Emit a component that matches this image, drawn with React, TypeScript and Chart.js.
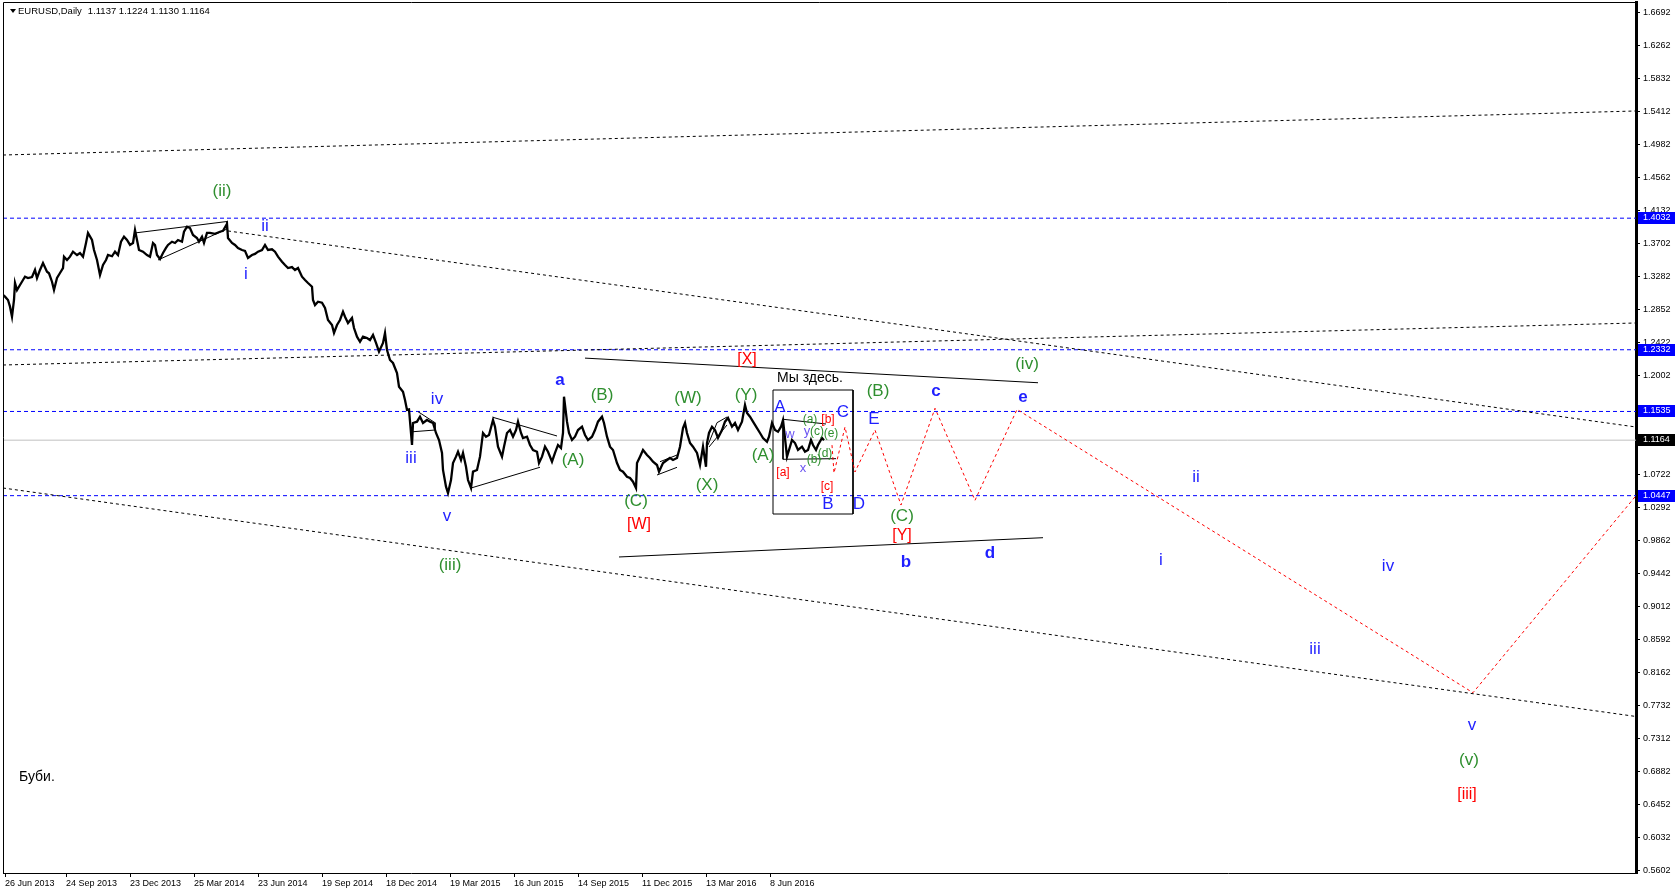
import React, { useEffect, useRef } from 'react';
import { Chart, registerables } from 'chart.js';

Chart.register(...registerables);

const FONT = '"Liberation Sans", Arial, sans-serif';

// EURUSD daily closes: bar number (from first visible session) and price
const priceBar = [
  0, 2, 5, 7, 9, 11, 12, 14, 17, 20, 22, 25, 29, 32, 34, 37, 40, 44, 46, 49, 51, 54, 57, 60, 61, 64, 67, 70, 74, 77,
  80, 83, 85, 89, 91, 94, 97, 100, 103, 105, 109, 112, 115, 118, 121, 124, 127, 130, 132, 134, 136, 140, 144, 147, 150,
  152, 154, 157, 160, 163, 165, 169, 172, 175, 179, 181, 184, 187, 190, 194, 196, 199, 201, 204, 207, 212, 217, 220,
  224, 225, 229, 232, 235, 239, 242, 245, 249, 252, 255, 259, 262, 265, 269, 272, 275, 279, 282, 285, 289, 292, 295,
  299, 302, 305, 309, 310, 312, 315, 319, 322, 325, 329, 331, 334, 337, 340, 342, 345, 349, 351, 354, 357, 360, 364,
  367, 370, 373, 376, 380, 382, 384, 387, 390, 394, 396, 400, 402, 404, 406, 409, 410, 414, 417, 420, 424, 427, 430,
  433, 436, 439, 440, 443, 445, 448, 450, 453, 455, 458, 460, 463, 465, 468, 470, 474, 477, 480, 483, 486, 490, 492,
  495, 499, 501, 504, 507, 510, 513, 515, 518, 520, 524, 527, 530, 534, 536, 539, 542, 545, 549, 552, 555, 558, 560,
  561, 564, 566, 569, 572, 575, 579, 582, 585, 589, 592, 595, 599, 601, 604, 607, 610, 614, 617, 620, 624, 627, 630,
  633, 634, 637, 640, 644, 647, 650, 654, 656, 660, 664, 667, 670, 674, 677, 680, 682, 684, 687, 690, 694, 697, 700,
  703, 704, 706, 709, 712, 715, 719, 722, 725, 729, 732, 735, 739, 742, 744, 747, 750, 754, 757, 760, 764, 766, 769,
  772, 775, 778, 780, 782, 784, 786, 789, 792, 795, 799, 802, 805, 808, 810, 813, 815, 819, 821,
];
const priceClose = [
  1.3040, 1.3018, 1.2975, 1.2889, 1.2759, 1.2975, 1.3195, 1.3104, 1.3169, 1.3233, 1.3276, 1.3259, 1.3272, 1.3363,
  1.3259, 1.3363, 1.3453, 1.3341, 1.3320, 1.3211, 1.3104, 1.3259, 1.3324, 1.3388, 1.3535, 1.3492, 1.3535, 1.3599,
  1.3556, 1.3582, 1.3535, 1.3712, 1.3841, 1.3750, 1.3621, 1.3492, 1.3298, 1.3427, 1.3492, 1.3556, 1.3540, 1.3599,
  1.3556, 1.3728, 1.3793, 1.3750, 1.3686, 1.3712, 1.3879, 1.3750, 1.3621, 1.3599, 1.3556, 1.3535, 1.3712, 1.3686,
  1.3556, 1.3505, 1.3582, 1.3647, 1.3686, 1.3728, 1.3712, 1.3750, 1.3728, 1.3857, 1.3922, 1.3905, 1.3815, 1.3776,
  1.3728, 1.3793, 1.3712, 1.3841, 1.3841, 1.3830, 1.3857, 1.3870, 1.3960, 1.3776, 1.3712, 1.3686, 1.3647, 1.3621,
  1.3610, 1.3518, 1.3556, 1.3570, 1.3599, 1.3621, 1.3686, 1.3621, 1.3630, 1.3599, 1.3535, 1.3470, 1.3427, 1.3388,
  1.3400, 1.3363, 1.3388, 1.3276, 1.3233, 1.3195, 1.3147, 1.2975, 1.2910, 1.2953, 1.2940, 1.2872, 1.2717, 1.2652,
  1.2549, 1.2652, 1.2717, 1.2824, 1.2759, 1.2678, 1.2743, 1.2613, 1.2501, 1.2436, 1.2501, 1.2484, 1.2458, 1.2523,
  1.2420, 1.2307, 1.2420, 1.2549, 1.2329, 1.2200, 1.2161, 1.2032, 1.1855, 1.1790, 1.1683, 1.1554, 1.1560, 1.1102,
  1.1386, 1.1403, 1.1467, 1.1386, 1.1425, 1.1403, 1.1386, 1.1257, 1.1166, 1.0999, 1.0779, 1.0563, 1.0481, 1.0649,
  1.0869, 1.0951, 1.1015, 1.0908, 1.0999, 1.0821, 1.0649, 1.0546, 1.0757, 1.0779, 1.0951, 1.1257, 1.1209, 1.1230,
  1.1425, 1.1338, 1.1080, 1.0951, 1.1080, 1.1257, 1.1295, 1.1209, 1.1295, 1.1403, 1.1257, 1.1192, 1.1209, 1.1102,
  1.1037, 1.1015, 1.0869, 1.0951, 1.1080, 1.1015, 1.0886, 1.0999, 1.1102, 1.1063, 1.1257, 1.1726, 1.1403, 1.1257,
  1.1166, 1.1209, 1.1295, 1.1338, 1.1231, 1.1166, 1.1209, 1.1295, 1.1403, 1.1467, 1.1386, 1.1209, 1.1080, 1.1037,
  1.0869, 1.0779, 1.0757, 1.0692, 1.0675, 1.0627, 1.0546, 1.0869, 1.0951, 1.1037, 1.0972, 1.0934, 1.0886, 1.0843,
  1.0757, 1.0869, 1.0908, 1.0934, 1.0908, 1.0934, 1.1080, 1.1321, 1.1386, 1.1257, 1.1127, 1.1080, 1.0999, 1.0843,
  1.1080, 1.0821, 1.1127, 1.1257, 1.1338, 1.1295, 1.1192, 1.1295, 1.1403, 1.1451, 1.1338, 1.1386, 1.1295, 1.1403,
  1.1618, 1.1515, 1.1467, 1.1403, 1.1321, 1.1257, 1.1192, 1.1144, 1.1209, 1.1386, 1.1295, 1.1273, 1.1338, 1.1425,
  1.1192, 1.0951, 1.1037, 1.1166, 1.1127, 1.1037, 1.1080, 1.1015, 1.1037, 1.1166, 1.1102, 1.1037, 1.1102, 1.1192,
  1.1164,
];

// time axis labels
const dateTickBar = [2, 63, 127, 191, 255, 319, 383, 447, 511, 575, 639, 703, 767];
const dateTickLabel = [
  '26 Jun 2013', '24 Sep 2013', '23 Dec 2013', '25 Mar 2014', '23 Jun 2014', '19 Sep 2014', '18 Dec 2014',
  '19 Mar 2015', '16 Jun 2015', '14 Sep 2015', '11 Dec 2015', '13 Mar 2016', '8 Jun 2016',
];

// price axis labels
const priceTicks = [
  1.6692, 1.6262, 1.5832, 1.5412, 1.4982, 1.4562, 1.4132, 1.3702, 1.3282, 1.2852, 1.2422, 1.2002, 1.0722, 1.0292,
  0.9862, 0.9442, 0.9012, 0.8592, 0.8162, 0.7732, 0.7312, 0.6882, 0.6452, 0.6032, 0.5602,
];

const symbolTitle = 'EURUSD,Daily';
const lastBarOHLC = [1.1137, 1.1224, 1.1130, 1.1164];
const lastPrice = 1.1164;
const levelPrices = [1.4032, 1.2332, 1.1535, 1.0447];

// trend lines: [bar, price, bar, price]
const channelLines = [
  [0, 1.4848, 1633, 1.5417],
  [0, 1.2135, 1633, 1.2678],
  [225, 1.3867, 1633, 1.1334],
  [0, 1.0546, 1633, 0.7594],
];
const patternLines = [
  [132, 1.3841, 224, 1.3989],
  [155, 1.3492, 224, 1.3892],
  [224, 1.3989, 224, 1.3892],
  [415, 1.1532, 432, 1.1390],
  [410, 1.1273, 432, 1.1295],
  [432, 1.1390, 432, 1.1295],
  [490, 1.1459, 554, 1.1218],
  [467, 1.0542, 537, 1.0814],
  [654, 1.0714, 674, 1.0813],
  [657, 1.0886, 674, 1.0972],
  [705, 1.1102, 714, 1.1390],
  [714, 1.1390, 724, 1.1463],
  [706, 1.1076, 724, 1.1360],
  [780, 1.1434, 823, 1.1373],
  [780, 1.0917, 833, 1.0925],
  [780, 1.1434, 780, 1.0917],
  [582, 1.2224, 1035, 1.1906],
  [616, 0.9655, 1040, 0.9904],
];
const focusBoxBars = [770, 850];
const focusBoxPrices = [1.1812, 1.0210];

// projected path
const forecastBar = [829, 831, 842, 852, 872, 898, 932, 972, 1014, 1470, 1633];
const forecastPrice = [1.1100, 1.0740, 1.1334, 1.0753, 1.1295, 1.0326, 1.1576, 1.0387, 1.1561, 0.7901, 1.0447];

// wave labels: [text, bar, price]
const greenWaves: [string, number, number][] = [
  ['(ii)', 219, 1.4379], ['(iii)', 447, 0.9545], ['(A)', 570, 1.0899], ['(B)', 599, 1.1741], ['(C)', 633, 1.0374],
  ['(W)', 685, 1.1700], ['(X)', 704, 1.0581], ['(Y)', 743, 1.1741], ['(A)', 760, 1.0967], ['(B)', 875, 1.1797],
  ['(C)', 899, 1.0180], ['(iv)', 1024, 1.2142], ['(v)', 1466, 0.7032],
];
const greenMinor: [string, number, number][] = [
  ['(a)', 807, 1.1425], ['(b)', 811, 1.0917], ['(c)', 814, 1.1273], ['(d)', 822, 1.0994], ['(e)', 828, 1.1250],
];
const redWaves: [string, number, number][] = [
  ['[X]', 744, 1.2210], ['[W]', 636, 1.0071], ['[Y]', 899, 0.9932], ['[iii]', 1464, 0.6590],
];
const redMinor: [string, number, number][] = [['[a]', 780, 1.0740], ['[b]', 825, 1.1425], ['[c]', 824, 1.0569]];
const blueWaves: [string, number, number][] = [
  ['ii', 262, 1.3923], ['i', 243, 1.3302], ['iv', 434, 1.1686], ['iii', 408, 1.0926], ['v', 444, 1.0180],
  ['A', 777, 1.1589], ['C', 840, 1.1520], ['B', 825, 1.0333], ['D', 856, 1.0333], ['E', 871, 1.1438],
  ['ii', 1193, 1.0678], ['i', 1158, 0.9616], ['iv', 1385, 0.9532], ['iii', 1312, 0.8468], ['v', 1469, 0.7474],
];
const blueBoldWaves: [string, number, number][] = [
  ['a', 557, 1.1935], ['c', 933, 1.1797], ['b', 903, 0.9586], ['d', 987, 0.9697], ['e', 1020, 1.1714],
];
const violetMinor: [string, number, number][] = [['w', 787, 1.1244], ['x', 800, 1.0801], ['y', 804, 1.1273]];
const notes: [string, number, number][] = [['Мы здесь.', 807, 1.1963]];
const sideNote: [string, number, number] = ['Буби.', 16, 0.6812];

const GREEN = '#2f8f2f';
const BLUE = '#1f1fff';
const RED = '#ff0000';
const VIOLET = '#6b55f2';

function seg(x1: number, y1: number, x2: number, y2: number) {
  return [{ x: x1, y: y1 }, { x: x2, y: y2 }];
}

export default function App() {
  const ref = useRef<HTMLCanvasElement>(null);

  useEffect(() => {
    const canvas = ref.current;
    if (!canvas) return;

    const base = { pointRadius: 0, pointHoverRadius: 0, showLine: true, fill: false, tension: 0 };
    const datasets: any[] = [];

    datasets.push({
      ...base,
      data: priceBar.map((b, i) => ({ x: b, y: priceClose[i] })),
      borderColor: '#000',
      borderWidth: 2.3,
    });
    datasets.push({
      ...base,
      data: forecastBar.map((b, i) => ({ x: b, y: forecastPrice[i] })),
      borderColor: RED,
      borderWidth: 1,
      borderDash: [3, 3],
    });
    patternLines.forEach((l) =>
      datasets.push({ ...base, data: seg(l[0], l[1], l[2], l[3]), borderColor: '#000', borderWidth: 1 })
    );
    datasets.push({
      ...base,
      data: [
        { x: focusBoxBars[0], y: focusBoxPrices[0] },
        { x: focusBoxBars[1], y: focusBoxPrices[0] },
        { x: focusBoxBars[1], y: focusBoxPrices[1] },
        { x: focusBoxBars[0], y: focusBoxPrices[1] },
        { x: focusBoxBars[0], y: focusBoxPrices[0] },
      ],
      borderColor: '#000',
      borderWidth: 1,
    });
    channelLines.forEach((l) =>
      datasets.push({
        ...base,
        data: seg(l[0], l[1], l[2], l[3]),
        borderColor: '#000',
        borderWidth: 1,
        borderDash: [3, 3],
      })
    );
    levelPrices.forEach((p) =>
      datasets.push({ ...base, data: seg(0, p, 1633, p), borderColor: '#0000ff', borderWidth: 1, borderDash: [4, 3] })
    );
    datasets.push({ ...base, data: seg(0, lastPrice, 1633, lastPrice), borderColor: '#c0c0c0', borderWidth: 1 });

    const decor = {
      id: 'decor',
      beforeDraw(chart: any) {
        const ctx = chart.ctx;
        ctx.save();
        ctx.fillStyle = '#fff';
        ctx.fillRect(0, 0, chart.width, chart.height);
        ctx.restore();
      },
      afterDraw(chart: any) {
        const ctx = chart.ctx;
        const xs = chart.scales.x;
        const ys = chart.scales.y;
        const area = chart.chartArea;
        ctx.save();
        // frame
        ctx.strokeStyle = '#000';
        ctx.lineWidth = 1;
        ctx.beginPath();
        ctx.moveTo(area.left + 0.5, area.bottom);
        ctx.lineTo(area.left + 0.5, area.top + 0.5);
        ctx.lineTo(area.right, area.top + 0.5);
        ctx.stroke();

        // wave labels
        const put = (items: [string, number, number][], color: string, font: string) => {
          ctx.fillStyle = color;
          ctx.font = font;
          ctx.textAlign = 'center';
          ctx.textBaseline = 'middle';
          items.forEach(([t, b, p]) => ctx.fillText(t, xs.getPixelForValue(b), ys.getPixelForValue(p)));
        };
        put(greenWaves, GREEN, `17px ${FONT}`);
        put(greenMinor, GREEN, `12px ${FONT}`);
        put(redWaves, RED, `16px ${FONT}`);
        put(redMinor, RED, `12px ${FONT}`);
        put(blueWaves, BLUE, `17px ${FONT}`);
        put(blueBoldWaves, BLUE, `bold 17px ${FONT}`);
        put(violetMinor, VIOLET, `13px ${FONT}`);
        put(notes, '#000', `14px ${FONT}`);
        ctx.textAlign = 'left';
        ctx.fillStyle = '#000';
        ctx.font = `14px ${FONT}`;
        ctx.fillText(sideNote[0], xs.getPixelForValue(sideNote[1]), ys.getPixelForValue(sideNote[2]));

        // symbol header
        ctx.beginPath();
        ctx.moveTo(area.left + 7, 9);
        ctx.lineTo(area.left + 13, 9);
        ctx.lineTo(area.left + 10, 13);
        ctx.closePath();
        ctx.fill();
        ctx.font = `9.5px ${FONT}`;
        ctx.textBaseline = 'middle';
        ctx.fillText(symbolTitle, area.left + 15, 11);
        const w = ctx.measureText(symbolTitle).width;
        ctx.fillText(lastBarOHLC.map((v) => v.toFixed(4)).join(' '), area.left + 15 + w + 6, 11);

        // price markers on the axis
        const marker = (p: number, bg: string) => {
          const y = Math.round(ys.getPixelForValue(p));
          ctx.fillStyle = bg;
          ctx.fillRect(area.right + 2, y - 6, 37, 12);
          ctx.fillStyle = '#fff';
          ctx.font = `9px ${FONT}`;
          ctx.textAlign = 'left';
          ctx.textBaseline = 'middle';
          ctx.fillText(p.toFixed(4), area.right + 7, y);
        };
        levelPrices.forEach((p) => marker(p, '#0000ff'));
        marker(lastPrice, '#000');
        ctx.restore();
      },
    };

    const chart = new Chart(canvas, {
      type: 'scatter',
      data: { datasets },
      options: {
        responsive: false,
        animation: false,
        events: [],
        devicePixelRatio: 1,
        layout: { padding: { left: 3, top: 2, right: 0, bottom: 0 } },
        plugins: { legend: { display: false }, tooltip: { enabled: false }, title: { display: false } },
        scales: {
          x: {
            type: 'linear',
            position: 'bottom',
            min: 0,
            max: 1633,
            grid: { display: true, drawOnChartArea: false, drawTicks: true, tickLength: 4, color: '#000' },
            border: { display: true, color: '#000', width: 1 },
            ticks: {
              autoSkip: false,
              maxRotation: 0,
              align: 'start',
              padding: 1,
              color: '#000',
              font: { family: FONT, size: 9 },
              callback: (v: any) => {
                const i = dateTickBar.indexOf(Number(v));
                return i >= 0 ? dateTickLabel[i] : '';
              },
            },
            afterBuildTicks: (s: any) => {
              s.ticks = dateTickBar.map((v) => ({ value: v }));
            },
            afterFit: (s: any) => {
              s.height = 21;
              s.paddingLeft = 0;
              s.paddingRight = 0;
            },
          },
          y: {
            type: 'linear',
            position: 'right',
            min: 0.5572,
            max: 1.6825,
            grid: { display: true, drawOnChartArea: false, drawTicks: true, tickLength: 4, color: '#000' },
            border: { display: true, color: '#000', width: 3 },
            ticks: {
              autoSkip: false,
              padding: 3,
              color: '#000',
              font: { family: FONT, size: 9 },
              callback: (v: any) => Number(v).toFixed(4),
            },
            afterBuildTicks: (s: any) => {
              s.ticks = priceTicks.map((v) => ({ value: v }));
            },
            afterFit: (s: any) => {
              s.width = 40;
              s.paddingTop = 0;
              s.paddingBottom = 0;
            },
          },
        },
      } as any,
      plugins: [decor],
    });

    return () => chart.destroy();
  }, []);

  return (
    <div style={{ position: 'absolute', left: 0, top: 0, width: 1676, height: 894, background: '#fff' }}>
      <canvas ref={ref} width={1676} height={894} style={{ display: 'block', width: 1676, height: 894 }} />
    </div>
  );
}
